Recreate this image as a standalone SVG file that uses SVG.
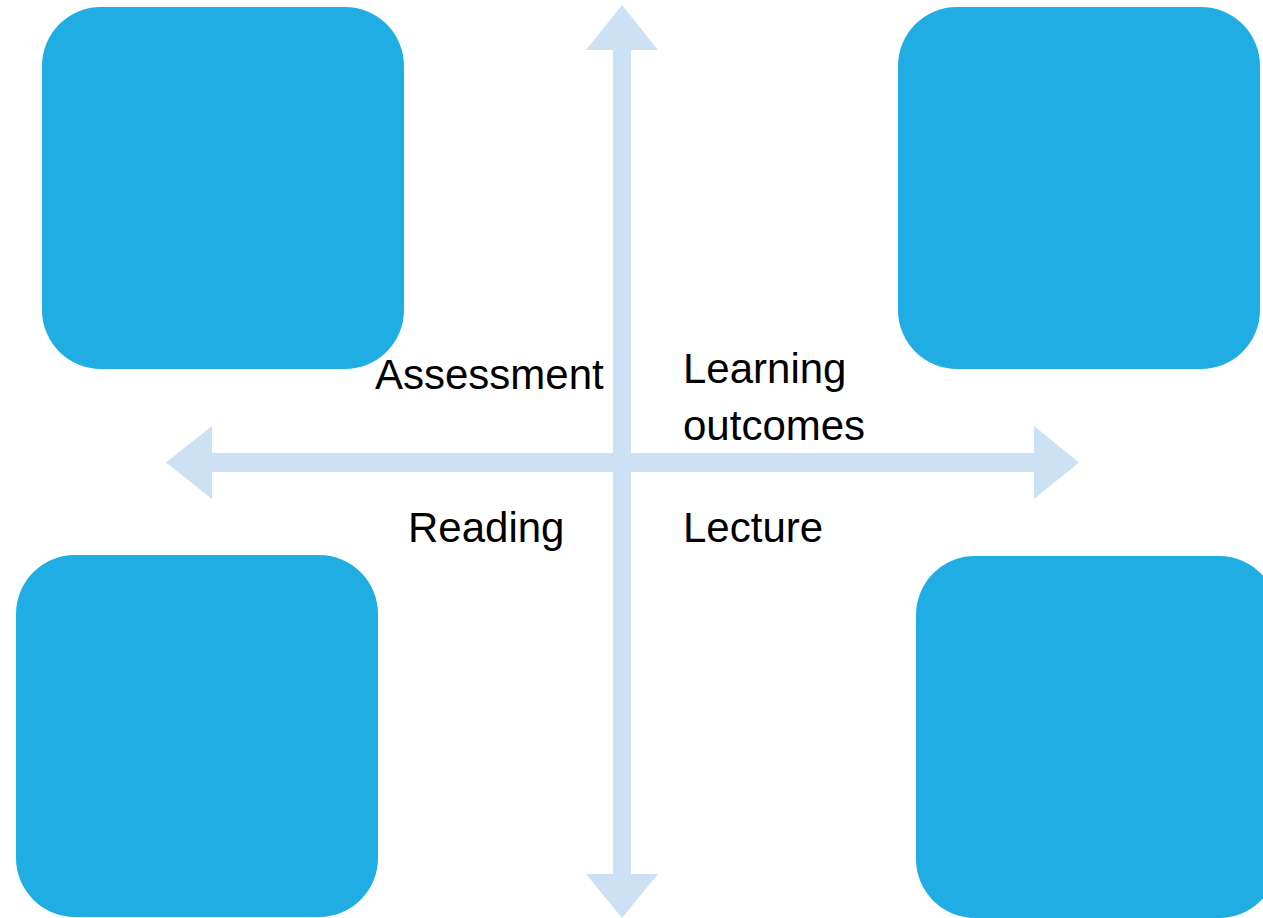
<svg xmlns="http://www.w3.org/2000/svg" width="1263" height="918" viewBox="0 0 1263 918">
<style>
.box{fill:#1FADE3}
.arw{fill:#CCE2F4}
.lbl{font-family:"Liberation Sans",Arial,sans-serif;font-size:42px;fill:#000}
</style>
<rect width="1263" height="918" fill="#fff"/>
<g id="connectors">
<path class="arw" d="M622,5 L658,50 L631,50 L631,874 L658,874 L622,918 L586,874 L613,874 L613,50 L586,50 Z"/>
<path class="arw" d="M166,462.5 L212,426 L212,453 L1034,453 L1034,426 L1079,462.5 L1034,499 L1034,472 L212,472 L212,499 Z"/>
</g>
<g id="node-tl"><rect class="box" x="42" y="7" width="362" height="362" rx="59"/></g>
<g id="node-tr"><rect class="box" x="898" y="7" width="362" height="362" rx="59"/></g>
<g id="node-bl"><rect class="box" x="16" y="555" width="362" height="362" rx="59"/></g>
<g id="node-br"><rect class="box" x="916" y="556" width="362" height="362" rx="59"/></g>
<g id="labels">
<text class="lbl" x="375" y="389">Assessment</text>
<text class="lbl" x="683" y="383">Learning</text>
<text class="lbl" x="683" y="440">outcomes</text>
<text class="lbl" x="408" y="542">Reading</text>
<text class="lbl" x="683" y="542">Lecture</text>
</g>
</svg>
